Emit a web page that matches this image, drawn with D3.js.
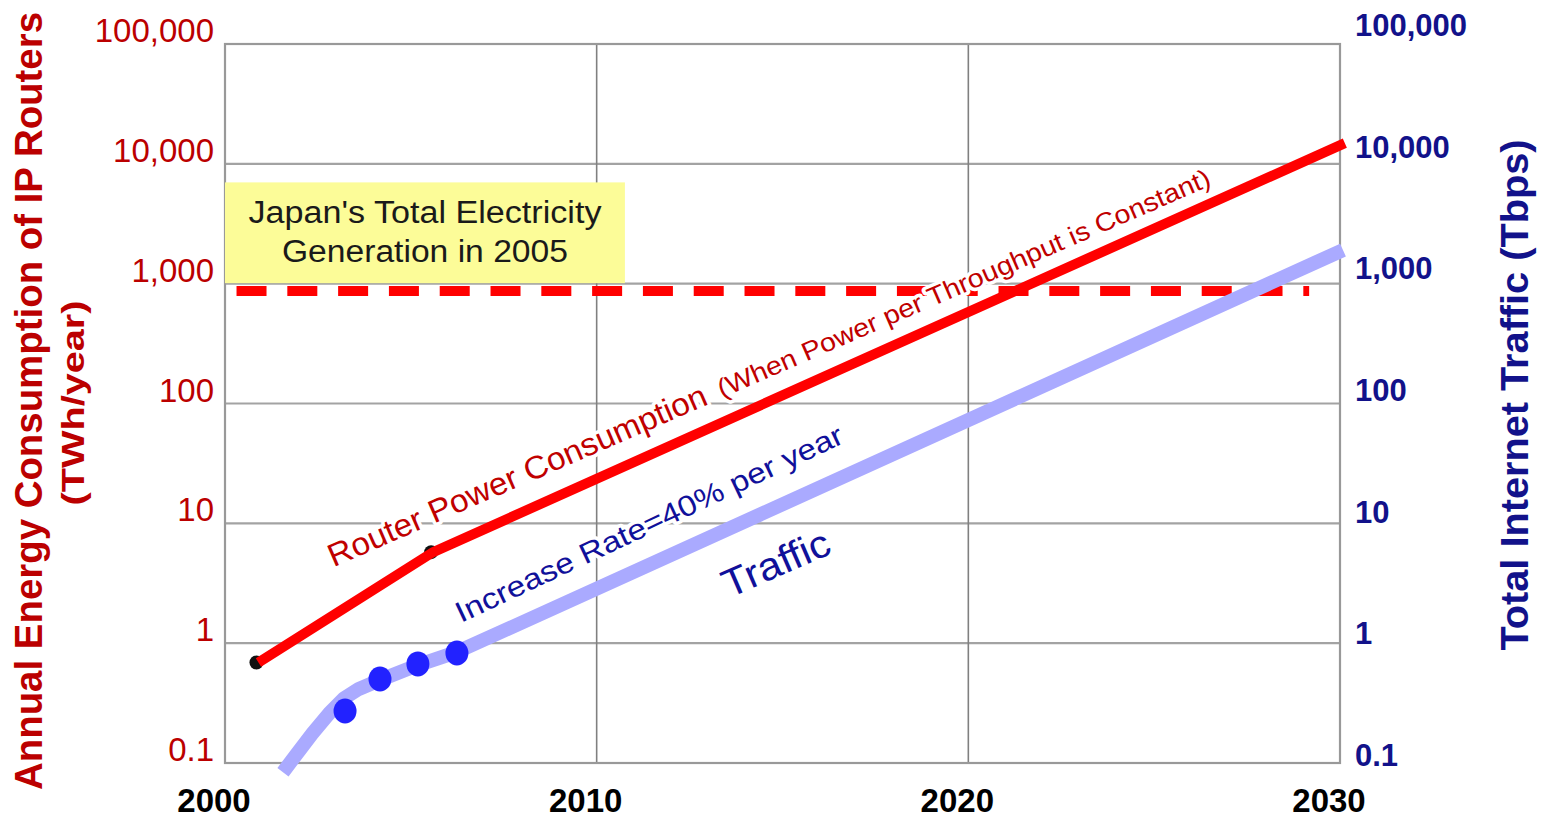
<!DOCTYPE html>
<html>
<head>
<meta charset="utf-8">
<script src="https://cdn.jsdelivr.net/npm/d3@7"></script>
<style>
  html, body { margin: 0; padding: 0; background: #ffffff; }
  svg { display: block; }
  text { font-family: "Liberation Sans", Arial, sans-serif; }
</style>
</head>
<body>
<svg id="chart" width="1543" height="820"></svg>
<script>
// ---------------- data ----------------
const xTickYears = [2000, 2010, 2020, 2030];
const xTickLabels = ["2000", "2010", "2020", "2030"];
const leftTickValues = [0.1, 1, 10, 100, 1000, 10000, 100000];
const leftTickLabels = ["0.1", "1", "10", "100", "1,000", "10,000", "100,000"];
const rightTickValues = [0.1, 1, 10, 100, 1000, 10000, 100000];
const rightTickLabels = ["0.1", "1", "10", "100", "1,000", "10,000", "100,000"];

// Router power consumption (TWh/year), left axis
const powerYears = [2000.9, 2005.6, 2030.13];
const powerTWh = [0.69, 5.75, 14900];

// Traffic trend line (Tbps), right axis
const trafficYears = [2001.56, 2001.95, 2002.35, 2002.8, 2003.2, 2003.6, 2004.17, 2005.19, 2006.24, 2030.08];
const trafficTbps = [0.089, 0.128, 0.185, 0.27, 0.36, 0.43, 0.509, 0.676, 0.865, 1741];

// Measured traffic points (Tbps)
const measuredYears = [2003.23, 2004.17, 2005.19, 2006.24];
const measuredTbps = [0.283, 0.519, 0.690, 0.849];

// Japan's total electricity generation in 2005 (TWh/year) reference line
const japanTWh = 870;
const japanLineYears = [2000.31, 2029.17];

// ---------------- scales ----------------
const svg = d3.select("#chart");
const x = d3.scaleLinear().domain([2000, 2030]).range([225, 1340]);
const yL = d3.scaleLog().domain([0.1, 100000]).range([763, 44]);
const yR = d3.scaleLog().domain([0.1, 100000]).range([766, 36]);

const darkRed = "#bb0000";
const navy = "#12128a";

// ---------------- grid ----------------
const grid = svg.append("g");
grid.selectAll("line.h").data(leftTickValues).enter().append("line")
  .attr("x1", x(2000)).attr("x2", x(2030))
  .attr("y1", d => yL(d)).attr("y2", d => yL(d))
  .attr("stroke", "#a3a3a3").attr("stroke-width", 2.2);
grid.selectAll("line.v").data([2010, 2020]).enter().append("line")
  .attr("x1", d => x(d)).attr("x2", d => x(d))
  .attr("y1", yL(100000)).attr("y2", yL(0.1))
  .attr("stroke", "#808080").attr("stroke-width", 1.6);
grid.append("rect")
  .attr("x", x(2000)).attr("y", yL(100000))
  .attr("width", x(2030) - x(2000)).attr("height", yL(0.1) - yL(100000))
  .attr("fill", "none").attr("stroke", "#999999").attr("stroke-width", 2.2);

// ---------------- Japan reference line ----------------
svg.append("line")
  .attr("x1", x(japanLineYears[0])).attr("x2", x(japanLineYears[1]))
  .attr("y1", yL(japanTWh)).attr("y2", yL(japanTWh))
  .attr("stroke", "#ff0000").attr("stroke-width", 10)
  .attr("stroke-dasharray", "30,20.8");

// yellow note box
const boxTop = 7000, boxBottom = 1010, boxRight = 2010.76;
svg.append("rect")
  .attr("x", x(2000)).attr("y", yL(boxTop))
  .attr("width", x(boxRight) - x(2000)).attr("height", yL(boxBottom) - yL(boxTop))
  .attr("fill", "#fcfc98");
const boxCx = (x(2000) + x(boxRight)) / 2;
svg.append("text").attr("x", boxCx).attr("y", 223)
  .attr("text-anchor", "middle").attr("font-size", 31).attr("fill", "#1a1a1a")
  .attr("textLength", 353).attr("lengthAdjust", "spacingAndGlyphs")
  .text("Japan's Total Electricity");
svg.append("text").attr("x", boxCx).attr("y", 262)
  .attr("text-anchor", "middle").attr("font-size", 31).attr("fill", "#1a1a1a")
  .attr("textLength", 286).attr("lengthAdjust", "spacingAndGlyphs")
  .text("Generation in 2005");

// ---------------- annotations (with white halo) ----------------
function note(px, py, angle, size, color, len, str) {
  return svg.append("text")
    .attr("transform", `translate(${px},${py}) rotate(${angle})`)
    .attr("font-size", size).attr("fill", color)
    .attr("stroke", "#ffffff").attr("stroke-width", 7).attr("paint-order", "stroke")
    .attr("stroke-linejoin", "round")
    .attr("textLength", len).attr("lengthAdjust", "spacingAndGlyphs")
    .text(str);
}
note(x(2002.92), yL(4.3), -23.5, 32, "#c00000", 410, "Router Power Consumption");
note(x(2013.37), yL(111), -23.5, 26, "#c00000", 535, "(When Power per Throughput is Constant)");
note(x(2006.35), yL(1.47), -25.2, 29, "#10109a", 425, "Increase Rate=40% per year");
note(x(2013.56), yL(2.37), -23.5, 39, "#10109a", 114, "Traffic");

// ---------------- series ----------------
const trafficData = trafficYears.map((yr, i) => [yr, trafficTbps[i]]);
svg.append("path")
  .attr("d", d3.line().x(d => x(d[0])).y(d => yR(d[1]))(trafficData))
  .attr("fill", "none").attr("stroke", "#aaaaff").attr("stroke-width", 14)
  .attr("stroke-linejoin", "round");

svg.selectAll("ellipse.m").data(measuredYears).enter().append("ellipse")
  .attr("cx", d => x(d)).attr("cy", (d, i) => yR(measuredTbps[i]))
  .attr("rx", 11.5).attr("ry", 12.5).attr("fill", "#2222ff");

const powerData = powerYears.map((yr, i) => [yr, powerTWh[i]]);
svg.selectAll("circle.k").data(powerData.slice(0, 2)).enter().append("circle")
  .attr("cx", d => x(d[0]) - 2).attr("cy", d => yL(d[1]))
  .attr("r", 7).attr("fill", "#111111");
svg.append("path")
  .attr("d", d3.line().x(d => x(d[0])).y(d => yL(d[1]))(powerData))
  .attr("fill", "none").attr("stroke", "#ff0000").attr("stroke-width", 10)
  .attr("stroke-linecap", "butt");

// ---------------- axes labels ----------------
svg.selectAll("text.lt").data(leftTickValues).enter().append("text")
  .attr("x", 214).attr("y", d => yL(d) - 2)
  .attr("text-anchor", "end").attr("font-size", 33).attr("fill", darkRed)
  .text((d, i) => leftTickLabels[i]);

svg.selectAll("text.rt").data(rightTickValues).enter().append("text")
  .attr("x", 1355).attr("y", d => yR(d))
  .attr("font-size", 31).attr("font-weight", "bold").attr("fill", navy)
  .text((d, i) => rightTickLabels[i]);

svg.selectAll("text.xt").data(xTickYears).enter().append("text")
  .attr("x", d => x(d) - 11).attr("y", 812)
  .attr("text-anchor", "middle").attr("font-size", 33).attr("font-weight", "bold").attr("fill", "#000000")
  .text((d, i) => xTickLabels[i]);

// axis titles
svg.append("text")
  .attr("transform", "translate(42,401) rotate(-90)")
  .attr("text-anchor", "middle").attr("font-size", 38).attr("font-weight", "bold").attr("fill", darkRed)
  .attr("textLength", 778).attr("lengthAdjust", "spacingAndGlyphs")
  .text("Annual Energy Consumption of IP Routers");
svg.append("text")
  .attr("transform", "translate(84,403) rotate(-90)")
  .attr("text-anchor", "middle").attr("font-size", 32).attr("font-weight", "bold").attr("fill", darkRed)
  .attr("textLength", 205).attr("lengthAdjust", "spacingAndGlyphs")
  .text("(TWh/year)");
svg.append("text")
  .attr("transform", "translate(1528,395) rotate(-90)")
  .attr("text-anchor", "middle").attr("font-size", 38).attr("font-weight", "bold").attr("fill", navy)
  .attr("textLength", 511).attr("lengthAdjust", "spacingAndGlyphs")
  .text("Total Internet Traffic (Tbps)");
</script>
</body>
</html>
